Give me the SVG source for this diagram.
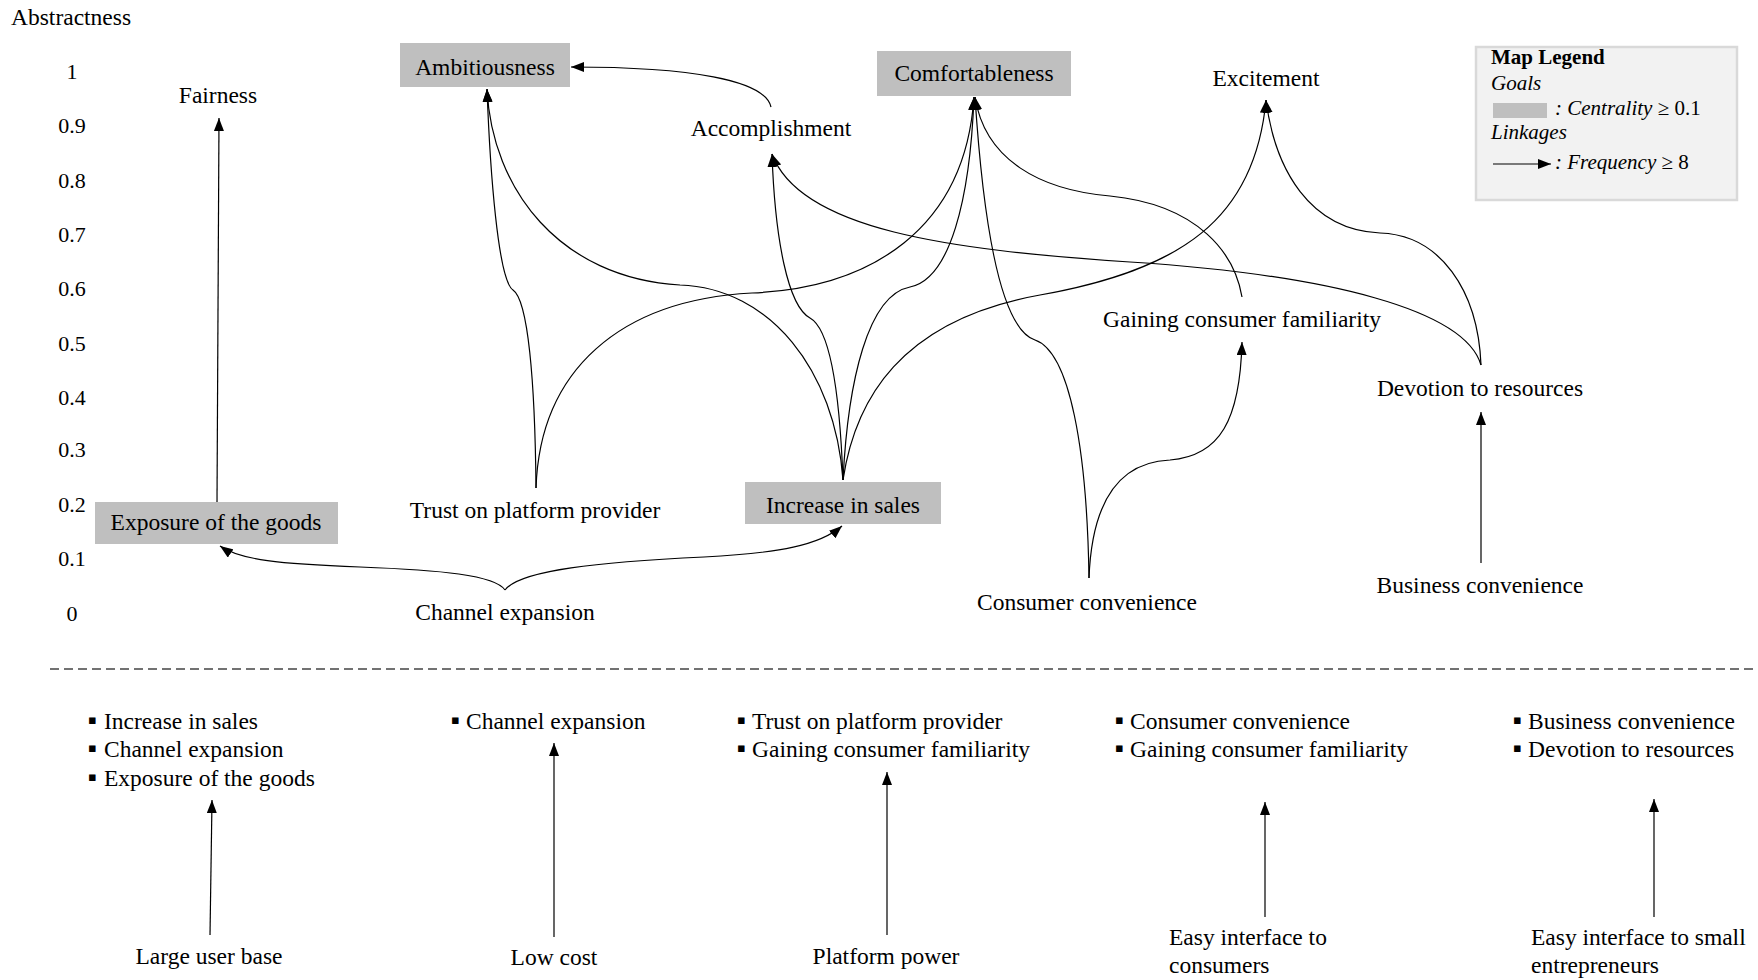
<svg xmlns="http://www.w3.org/2000/svg" width="1758" height="980" viewBox="0 0 1758 980">
<defs>
<style>
text{font-family:"Liberation Serif","Times New Roman",serif;fill:#000;}
.t{font-size:23.5px;}
.m{text-anchor:middle;}
.tick{font-size:22px;text-anchor:middle;}
.lg{font-size:21px;}
.it{font-style:italic;}
.bd{font-weight:bold;}
.bul{font-family:"DejaVu Sans",sans-serif;font-size:13px;}
.box{fill:#bfbfbf;}
.c{fill:none;stroke:#000;stroke-width:1.2;marker-end:url(#ah);}
.dash{stroke:#444;stroke-width:1.5;stroke-dasharray:9 5;fill:none;}
</style>
<marker id="ah" viewBox="0 0 13 10" refX="13" refY="5" markerWidth="13" markerHeight="10" orient="auto" markerUnits="userSpaceOnUse">
<path d="M0,0 L13,5 L0,10 z" fill="#000"/>
</marker>
</defs>
<rect width="1758" height="980" fill="#fff"/>

<g id="axis">
<text class="t" x="11" y="25">Abstractness</text>
<text class="tick" x="72" y="79">1</text>
<text class="tick" x="72" y="133">0.9</text>
<text class="tick" x="72" y="188">0.8</text>
<text class="tick" x="72" y="242">0.7</text>
<text class="tick" x="72" y="296">0.6</text>
<text class="tick" x="72" y="351">0.5</text>
<text class="tick" x="72" y="405">0.4</text>
<text class="tick" x="72" y="457">0.3</text>
<text class="tick" x="72" y="512">0.2</text>
<text class="tick" x="72" y="566">0.1</text>
<text class="tick" x="72" y="621">0</text>
</g>

<g id="legend">
<rect x="1476" y="47" width="261" height="153" fill="#f2f2f2" stroke="#d9d9d9" stroke-width="2.5"/>
<text class="lg bd" x="1491" y="64">Map Legend</text>
<text class="lg it" x="1491" y="90">Goals</text>
<rect x="1493" y="103" width="54" height="15" fill="#bfbfbf"/>
<text class="lg" x="1555" y="115"><tspan class="it">: Centrality</tspan> ≥ 0.1</text>
<text class="lg it" x="1491" y="139">Linkages</text>
<line x1="1493" y1="164" x2="1551" y2="164" stroke="#000" stroke-width="1.2" marker-end="url(#ah)"/>
<text class="lg" x="1555" y="169"><tspan class="it">: Frequency</tspan> ≥ 8</text>
</g>

<g id="node-ambitiousness"><rect class="box" x="400" y="43" width="170" height="44"/><text class="t m" x="485" y="75">Ambitiousness</text></g>
<g id="node-comfortableness"><rect class="box" x="877" y="51" width="194" height="45"/><text class="t m" x="974" y="81">Comfortableness</text></g>
<g id="node-fairness"><text class="t m" x="218" y="103">Fairness</text></g>
<g id="node-accomplishment"><text class="t m" x="771" y="136">Accomplishment</text></g>
<g id="node-excitement"><text class="t m" x="1266" y="86">Excitement</text></g>
<g id="node-gaining"><text class="t m" x="1242" y="327">Gaining consumer familiarity</text></g>
<g id="node-devotion"><text class="t m" x="1480" y="396">Devotion to resources</text></g>
<g id="node-exposure"><rect class="box" x="95" y="502" width="243" height="42"/><text class="t m" x="216" y="530">Exposure of the goods</text></g>
<g id="node-trust"><text class="t m" x="535" y="518">Trust on platform provider</text></g>
<g id="node-increase"><rect class="box" x="745" y="482" width="196" height="42"/><text class="t m" x="843" y="513">Increase in sales</text></g>
<g id="node-channel"><text class="t m" x="505" y="620">Channel expansion</text></g>
<g id="node-consumer-conv"><text class="t m" x="1087" y="610">Consumer convenience</text></g>
<g id="node-business-conv"><text class="t m" x="1480" y="593">Business convenience</text></g>

<g id="connectors">
<path class="c" d="M217,502 L219,118"/>
<path class="c" d="M771,107 C765,80 690,67 571,67"/>
<path class="c" d="M536,488 C535,380 528,300 513,290 C498,280 490,170 487,89"/>
<path class="c" d="M843,480 C835,370 770,288 680,285 C560,278 492,190 487,89"/>
<path class="c" d="M536,488 C540,370 620,300 752,293 C870,288 965,230 974,97"/>
<path class="c" d="M843,480 C848,380 868,295 910,287 C950,279 970,200 974,97"/>
<path class="c" d="M843,480 C840,400 832,330 810,318 C788,306 775,240 772,154"/>
<path class="c" d="M843,480 C855,400 900,320 1040,295 C1180,270 1255,220 1266,100"/>
<path class="c" d="M1242,297 C1235,255 1200,205 1110,196 C1040,190 985,160 975,97"/>
<path class="c" d="M1089,578 C1087,450 1070,352 1035,340 C1005,330 985,250 975,97"/>
<path class="c" d="M1089,578 C1092,500 1120,462 1170,460 C1220,456 1240,420 1242,342"/>
<path class="c" d="M1481,365 C1478,290 1440,235 1380,233 C1310,230 1275,170 1266,100"/>
<path class="c" d="M1481,365 C1465,310 1330,275 1130,262 C950,250 800,230 772,154"/>
<path class="c" d="M1481,563 L1481,412"/>
<path class="c" d="M505,590 C495,575 440,570 360,567 C280,564 240,560 220,546"/>
<path class="c" d="M505,590 C520,570 600,562 704,557 C780,553 820,545 842,526"/>
<path class="c" d="M210,935 L212,800"/>
<path class="c" d="M554,937 L554,743"/>
<path class="c" d="M887,935 L887,772"/>
<path class="c" d="M1265,917 L1265,802"/>
<path class="c" d="M1654,917 L1654,799"/>
</g>

<g id="divider"><line class="dash" x1="50" y1="669" x2="1758" y2="669"/></g>

<g id="goals-large-user-base">
<text class="bul" x="88" y="724">▪</text><text class="t" x="104" y="729">Increase in sales</text>
<text class="bul" x="88" y="752">▪</text><text class="t" x="104" y="757">Channel expansion</text>
<text class="bul" x="88" y="781">▪</text><text class="t" x="104" y="786">Exposure of the goods</text>
<text class="t m" x="209" y="964">Large user base</text>
</g>
<g id="goals-low-cost">
<text class="bul" x="451" y="724">▪</text><text class="t" x="466" y="729">Channel expansion</text>
<text class="t m" x="554" y="965">Low cost</text>
</g>
<g id="goals-platform-power">
<text class="bul" x="737" y="724">▪</text><text class="t" x="752" y="729">Trust on platform provider</text>
<text class="bul" x="737" y="752">▪</text><text class="t" x="752" y="757">Gaining consumer familiarity</text>
<text class="t m" x="886" y="964">Platform power</text>
</g>
<g id="goals-easy-consumers">
<text class="bul" x="1115" y="724">▪</text><text class="t" x="1130" y="729">Consumer convenience</text>
<text class="bul" x="1115" y="752">▪</text><text class="t" x="1130" y="757">Gaining consumer familiarity</text>
<text class="t" x="1169" y="945">Easy interface to</text>
<text class="t" x="1169" y="973">consumers</text>
</g>
<g id="goals-easy-entrepreneurs">
<text class="bul" x="1513" y="724">▪</text><text class="t" x="1528" y="729">Business convenience</text>
<text class="bul" x="1513" y="752">▪</text><text class="t" x="1528" y="757">Devotion to resources</text>
<text class="t" x="1531" y="945">Easy interface to small</text>
<text class="t" x="1531" y="973">entrepreneurs</text>
</g>
</svg>
